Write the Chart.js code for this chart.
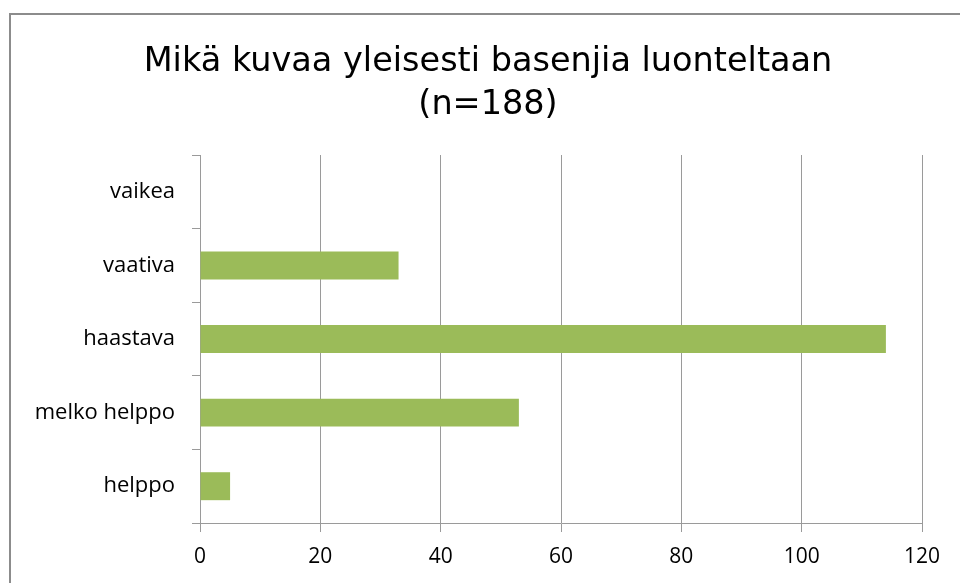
<!DOCTYPE html>
<html lang="fi">
    <head>
        <meta charset="UTF-8">
        <title>Basenji</title>
        <style>
            html, body { margin: 0; padding: 0; overflow: hidden; background: #fff; }
            .frame { position: absolute; left: 9px; top: 13px; width: 1000px; height: 1000px; border: 2px solid #8c8c8c; }
            .chart-container { position: absolute; left: 0; top: 0; width: 960px; height: 583px; }
        </style>
    </head>
    <body>
        <div class="frame"></div>
        <div class="chart-container">
            <canvas id="myChart"></canvas>
        </div>
    </body>
    <script src="https://cdn.jsdelivr.net/npm/chart.js@4.4.0/dist/chart.umd.min.js"></script>
    <script>
        // vastaukset, ylhäältä alas
        const categories = ['vaikea', 'vaativa', 'haastava', 'melko helppo', 'helppo']
        const counts = [0, 33, 114, 53, 5]
        const xTicks = [0, 20, 40, 60, 80, 100, 120]

        const gridColor = '#9a9a9a'

        // otsikko hieman oikealle, kuten alkuperäisessä
        const shiftTitle = {
            id: 'shiftTitle',
            afterLayout(chart) {
                if (chart.titleBlock) chart.titleBlock.left += 38
            }
        }

        const ctx = document.getElementById('myChart')

        new Chart(ctx, {
            type: 'bar',
            data: {
                labels: categories,
                datasets: [{
                    data: counts,
                    backgroundColor: '#9bbb59',
                    categoryPercentage: 0.76,
                    barPercentage: 0.5
                }]
            },
            options: {
                indexAxis: 'y',
                responsive: true,
                maintainAspectRatio: false,
                animation: false,
                layout: { padding: { left: 16, right: 38, top: 0, bottom: 0 } },
                plugins: {
                    legend: { display: false },
                    tooltip: { enabled: false },
                    title: {
                        display: true,
                        text: ['Mikä kuvaa yleisesti basenjia luonteltaan', '(n=188)'],
                        color: '#000',
                        font: { family: 'DejaVu Sans', size: 33.5, weight: 'normal', lineHeight: 1.284 },
                        padding: { top: 41, bottom: 28 }
                    }
                },
                scales: {
                    x: {
                        min: 0,
                        max: 120,
                        afterBuildTicks: (scale) => { scale.ticks = xTicks.map(v => ({ value: v })) },
                        afterFit: (scale) => { scale.height = 60 },
                        grid: { color: gridColor, tickLength: 9, lineWidth: 1 },
                        border: { color: gridColor },
                        ticks: { color: '#000', font: { family: 'Open Sans', size: 21 }, padding: 12 }
                    },
                    y: {
                        afterFit: (scale) => { scale.width = 184 },
                        grid: { drawOnChartArea: false, color: gridColor, tickLength: 8, offset: true },
                        border: { color: gridColor },
                        ticks: { color: '#000', font: { family: 'Open Sans', size: 22 }, padding: 17 }
                    }
                }
            },
            plugins: [shiftTitle]
        })
    </script>
</html>
